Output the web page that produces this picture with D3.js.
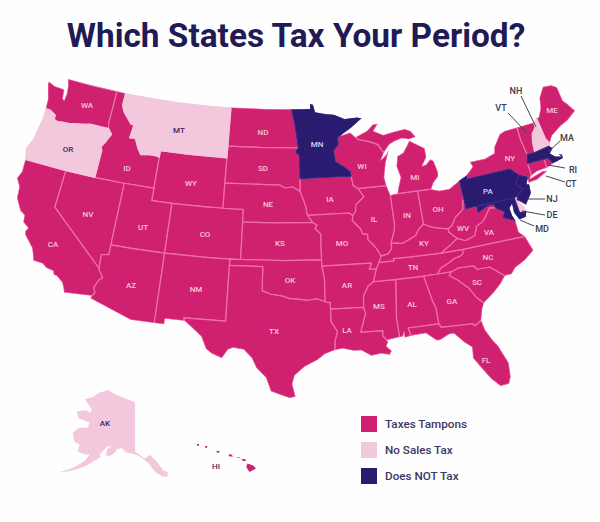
<!DOCTYPE html>
<html lang="en">
<head>
<meta charset="UTF-8">
<title>Which States Tax Your Period?</title>
<script src="https://d3js.org/d3.v7.min.js"></script>
<style>
  body { margin: 0; background: #fefefe; font-family: Roboto, Arial, sans-serif; }
  svg { display: block; }
  .state { stroke-width: 1.2; stroke-linejoin: round; }
  .code { font-size: 8px; font-weight: 500; text-anchor: middle; fill: #f8c4da; }
  .code.dark { fill: #3b2a66; }
  .code.lite { fill: #d9d2f2; }
  .callout { font-size: 9px; font-weight: 500; text-anchor: middle; fill: #3a3a4a; }
  .leader { stroke: #45455a; stroke-width: 1; }
  .legend { font-size: 11.7px; font-weight: 500; fill: #3b3762; }
</style>
</head>
<body>
<script>
// legend groups
const legendLabels = ["Taxes Tampons", "No Sales Tax", "Does NOT Tax"];
const taxesTampons = ["WA","CA","NV","ID","WY","UT","CO","AZ","NM","ND","SD","NE","KS","OK","TX","IA","MO","AR","LA","WI","IL","MS","AL","TN","KY","IN","OH","MI","GA","FL","SC","NC","VA","WV","NY","VT","ME","RI","CT","HI"];
const noSalesTax = ["OR","MT","NH","DE","AK"];
const doesNotTax = ["MN","PA","NJ","MD","MA"];

// state outlines, lon/lat
const WA = [[[-122.76,49],[-120,49],[-117.03,49],[-117.04,46.42],[-116.92,45.99],[-118.98,46],[-119.3,45.93],[-119.9,45.84],[-120.6,45.74],[-121.2,45.65],[-122,45.6],[-122.3,45.55],[-122.76,45.65],[-122.8,46],[-123.2,46.15],[-123.5,46.27],[-124,46.27],[-124.07,46.7],[-124.1,47],[-124.4,47.6],[-124.7,48.2],[-124.7,48.38],[-123.9,48.17],[-123.1,48.15],[-122.75,48.1],[-122.6,47.4],[-122.4,47.3],[-122.35,47.9],[-122.5,48.5]]];
const OR = [[[-124,46.27],[-123.5,46.27],[-123.2,46.15],[-122.8,46],[-122.76,45.65],[-122.3,45.55],[-122,45.6],[-121.2,45.65],[-120.6,45.74],[-119.9,45.84],[-119.3,45.93],[-118.98,46],[-116.92,45.99],[-116.46,45.6],[-116.85,44.95],[-117.2,44.45],[-117.03,44.2],[-117.03,42],[-120,42],[-124.2,42],[-124.4,42.5],[-124.55,42.85],[-124.15,43.7],[-124.05,44.7],[-123.95,45.5]]];
const CA = [[[-124.2,42],[-120,42],[-120,39],[-114.63,35],[-114.6,34.9],[-114.13,34.3],[-114.43,34.05],[-114.72,33.4],[-114.5,33],[-114.72,32.72],[-117.12,32.53],[-117.25,32.85],[-117.5,33.3],[-118.1,33.7],[-118.4,33.75],[-118.5,34.03],[-119.2,34.15],[-119.6,34.4],[-120.47,34.45],[-120.65,34.9],[-120.9,35.4],[-121.9,36.3],[-121.95,36.6],[-121.8,36.85],[-122.4,37.2],[-122.5,37.75],[-123,38],[-123.7,38.9],[-123.85,39.8],[-124.35,40.4],[-124.1,41]]];
const NV = [[[-120,42],[-117.03,42],[-114.04,42],[-114.04,37],[-114.04,36.2],[-114.7,36.1],[-114.63,35],[-120,39]]];
const ID = [[[-117.03,49],[-116.05,49],[-116.05,48],[-115.7,47.5],[-114.7,46.7],[-114.35,46.65],[-114.5,45.6],[-113.9,45.65],[-113.45,44.95],[-113,44.45],[-112.3,44.55],[-111.5,44.55],[-111.05,44.48],[-111.05,42],[-114.04,42],[-117.03,42],[-117.03,44.2],[-117.2,44.45],[-116.85,44.95],[-116.46,45.6],[-116.92,45.99],[-117.04,46.42]]];
const MT = [[[-116.05,49],[-113,49],[-110,49],[-107,49],[-104.05,49],[-104.05,45.94],[-104.05,45],[-108,45],[-111.05,45],[-111.05,44.48],[-111.5,44.55],[-112.3,44.55],[-113,44.45],[-113.45,44.95],[-113.9,45.65],[-114.5,45.6],[-114.35,46.65],[-114.7,46.7],[-115.7,47.5],[-116.05,48]]];
const WY = [[[-111.05,45],[-108,45],[-104.05,45],[-104.05,43],[-104.05,41],[-108,41],[-109.05,41],[-111.05,41],[-111.05,42],[-111.05,44.48]]];
const UT = [[[-114.04,42],[-111.05,42],[-111.05,41],[-109.05,41],[-109.05,37],[-112,37],[-114.04,37]]];
const CO = [[[-109.05,41],[-106,41],[-104.05,41],[-102.05,41],[-102.05,40],[-102.05,37],[-105,37],[-109.05,37]]];
const AZ = [[[-114.04,37],[-112,37],[-109.05,37],[-109.05,31.33],[-111.07,31.33],[-114.8,32.5],[-114.72,32.72],[-114.5,33],[-114.72,33.4],[-114.43,34.05],[-114.13,34.3],[-114.6,34.9],[-114.63,35],[-114.7,36.1],[-114.04,36.2]]];
const NM = [[[-109.05,37],[-105,37],[-103,37],[-103.04,36.5],[-103.04,32],[-106.62,32],[-106.53,31.78],[-108.2,31.78],[-108.2,31.33],[-109.05,31.33]]];
const ND = [[[-104.05,49],[-100,49],[-97.23,49],[-96.85,47.6],[-96.56,45.94],[-100,45.94],[-104.05,45.94]]];
const SD = [[[-104.05,45.94],[-100,45.94],[-96.56,45.94],[-96.85,45.6],[-96.45,45.3],[-96.45,43.5],[-96.45,42.49],[-97.2,42.85],[-98,42.77],[-98.5,43],[-104.05,43],[-104.05,45]]];
const NE = [[[-104.05,43],[-98.5,43],[-98,42.77],[-97.2,42.85],[-96.45,42.49],[-96.1,41.7],[-95.9,41.2],[-95.85,40.7],[-95.77,40.58],[-95.3,40],[-99,40],[-102.05,40],[-102.05,41],[-104.05,41]]];
const KS = [[[-102.05,40],[-99,40],[-95.3,40],[-94.9,39.8],[-95.1,39.5],[-94.6,39.1],[-94.62,37],[-98,37],[-102.05,37]]];
const OK = [[[-103,37],[-98,37],[-94.62,37],[-94.62,36.5],[-94.43,35.4],[-94.48,33.64],[-95.2,33.9],[-96,33.8],[-96.9,33.9],[-97.6,33.95],[-98.1,34.13],[-99.2,34.3],[-100,34.56],[-100,36.5],[-103.04,36.5]]];
const TX = [[[-103.04,36.5],[-100,36.5],[-100,34.56],[-99.2,34.3],[-98.1,34.13],[-97.6,33.95],[-96.9,33.9],[-96,33.8],[-95.2,33.9],[-94.48,33.64],[-94.04,33.55],[-94.04,33.02],[-94.04,32],[-93.55,31.2],[-93.8,30.4],[-93.85,29.7],[-94.7,29.4],[-95.3,28.95],[-96.4,28.4],[-97.2,27.7],[-97.4,27],[-97.15,25.96],[-97.6,25.85],[-98.2,26.05],[-99.1,26.4],[-99.5,27.5],[-100.3,28.3],[-100.7,29.1],[-101.4,29.77],[-102.3,29.88],[-102.7,29.7],[-103.15,28.98],[-104,29.3],[-104.5,29.65],[-105,30.65],[-106.53,31.78],[-106.62,32],[-103.04,32]]];
const MN = [[[-97.23,49],[-95.15,49],[-95.15,49.38],[-94.8,49.33],[-94.6,48.72],[-93.5,48.55],[-92.5,48.45],[-91.4,48.05],[-90,48.1],[-89.5,48],[-90.8,47.3],[-92.05,46.75],[-92.3,46.65],[-92.3,46.1],[-92.85,45.6],[-92.75,45],[-92.75,44.75],[-91.9,44.3],[-91.25,43.85],[-91.22,43.5],[-96.45,43.5],[-96.45,45.3],[-96.85,45.6],[-96.56,45.94],[-96.85,47.6]]];
const IA = [[[-96.45,43.5],[-91.22,43.5],[-91.1,42.75],[-90.65,42.5],[-90.15,41.8],[-91.05,41.2],[-91.1,40.7],[-91.42,40.38],[-91.73,40.61],[-95.77,40.58],[-95.85,40.7],[-95.9,41.2],[-96.1,41.7],[-96.45,42.49]]];
const MO = [[[-95.77,40.58],[-91.73,40.61],[-91.42,40.38],[-91.5,40],[-90.75,39.25],[-90.65,38.9],[-90.15,38.8],[-90.2,38.4],[-89.55,37.7],[-89.15,37],[-89.4,36.5],[-89.7,36],[-90.37,36],[-90.1,36.5],[-94.62,36.5],[-94.62,37],[-94.6,39.1],[-95.1,39.5],[-94.9,39.8],[-95.3,40]]];
const AR = [[[-94.62,36.5],[-90.1,36.5],[-90.37,36],[-89.7,36],[-90.1,35],[-90.6,34.7],[-91.1,33.9],[-91.17,33],[-94.04,33.02],[-94.04,33.55],[-94.48,33.64],[-94.43,35.4]]];
const LA = [[[-94.04,33.02],[-91.17,33],[-91.05,32.5],[-91.6,31.02],[-89.73,31],[-89.8,30.6],[-89.5,30.2],[-89.4,30.05],[-89.6,29.7],[-89.2,29.3],[-89.4,29],[-90.1,29.15],[-90.9,29.05],[-91.7,29.55],[-92.3,29.55],[-93.2,29.78],[-93.85,29.7],[-93.8,30.4],[-93.55,31.2],[-94.04,32]]];
const MS = [[[-90.1,35],[-88.2,35],[-88.1,34.9],[-88.47,31.9],[-88.4,30.35],[-89.5,30.2],[-89.8,30.6],[-89.73,31],[-91.6,31.02],[-91.05,32.5],[-91.17,33],[-91.1,33.9],[-90.6,34.7]]];
const AL = [[[-88.2,35],[-85.6,34.98],[-85.18,32.87],[-85,32.3],[-85,31],[-87.6,31],[-87.45,30.35],[-88,30.25],[-88,30.7],[-88.13,30.35],[-88.4,30.35],[-88.47,31.9],[-88.1,34.9]]];
const TN = [[[-89.4,36.5],[-88.05,36.5],[-88.07,36.68],[-86.5,36.65],[-83.68,36.6],[-81.68,36.59],[-81.7,36.3],[-82,36.1],[-82.6,36],[-83.1,35.75],[-84,35.4],[-84.32,34.99],[-85.6,34.98],[-88.2,35],[-90.1,35],[-89.7,36]]];
const KY = [[[-89.4,36.5],[-89.15,37],[-88.5,37.1],[-88.1,37.5],[-88.1,37.9],[-87.6,37.9],[-87.1,37.8],[-86.5,38],[-85.7,38.3],[-85.4,38.7],[-84.8,39.1],[-84.3,38.85],[-83.7,38.65],[-82.6,38.4],[-82.6,38.15],[-81.97,37.54],[-82.7,37.1],[-83.68,36.6],[-86.5,36.65],[-88.07,36.68],[-88.05,36.5]]];
const IL = [[[-90.65,42.5],[-87.8,42.5],[-87.53,41.7],[-87.53,39.35],[-87.6,39],[-87.95,38.2],[-88.1,37.9],[-88.1,37.5],[-88.5,37.1],[-89.15,37],[-89.55,37.7],[-90.2,38.4],[-90.15,38.8],[-90.65,38.9],[-90.75,39.25],[-91.5,40],[-91.42,40.38],[-91.1,40.7],[-91.05,41.2],[-90.15,41.8]]];
const IN = [[[-87.53,41.7],[-87.2,41.76],[-86.82,41.76],[-84.8,41.76],[-84.8,39.1],[-85.4,38.7],[-85.7,38.3],[-86.5,38],[-87.1,37.8],[-87.6,37.9],[-88.1,37.9],[-87.95,38.2],[-87.6,39],[-87.53,39.35]]];
const OH = [[[-84.8,41.76],[-83.45,41.73],[-82.7,41.5],[-81.7,41.5],[-80.52,42],[-80.52,40.64],[-80.65,40.3],[-80.85,39.7],[-81.7,39.2],[-82.2,38.6],[-82.6,38.4],[-83.7,38.65],[-84.3,38.85],[-84.8,39.1]]];
const MI = [
  [[-86.82,41.76],[-84.8,41.76],[-83.45,41.73],[-83.1,42.2],[-82.5,42.65],[-82.45,43],[-82.65,43.9],[-82.95,44.07],[-83.5,43.7],[-83.9,43.65],[-83.3,44.3],[-83.3,45],[-84.75,45.78],[-85.1,45.4],[-85.6,44.9],[-86.25,44.7],[-86.5,43.9],[-86.25,43],[-86.6,42.3]],
  [[-90.4,46.55],[-89.1,46.95],[-88.4,47.4],[-87.8,47.45],[-88.4,46.9],[-87.4,46.5],[-86.2,46.65],[-85,46.75],[-84.4,46.5],[-84,46],[-84.75,45.9],[-85.5,46.05],[-86.3,45.9],[-86.9,45.7],[-87.6,45.1],[-87.8,45.35],[-88.1,45.8],[-89.1,46.13],[-90.1,46.33]]
];
const WI = [[[-92.05,46.75],[-90.9,46.95],[-90.4,46.55],[-90.1,46.33],[-89.1,46.13],[-88.1,45.8],[-87.8,45.35],[-87.6,45.1],[-88,44.55],[-87.4,44.9],[-87.05,45.25],[-87.55,44.3],[-87.9,43.2],[-87.8,42.5],[-90.65,42.5],[-91.1,42.75],[-91.22,43.5],[-91.25,43.85],[-91.9,44.3],[-92.75,44.75],[-92.75,45],[-92.85,45.6],[-92.3,46.1],[-92.3,46.65]]];
const GA = [[[-85.6,34.98],[-84.32,34.99],[-83.1,35],[-83.35,34.7],[-82.75,34.3],[-81.9,33.5],[-81.4,32.6],[-80.9,32.05],[-81.15,31.6],[-81.45,30.72],[-82.05,30.36],[-82.2,30.57],[-84.86,30.7],[-85,31],[-85,32.3],[-85.18,32.87]]];
const FL = [[[-87.6,31],[-85,31],[-84.86,30.7],[-82.2,30.57],[-82.05,30.36],[-81.45,30.72],[-81.3,29.9],[-80.9,29],[-80.55,28.4],[-80.05,26.9],[-80.15,25.75],[-80.4,25.2],[-81.1,25.15],[-81.7,25.9],[-82.2,26.8],[-82.75,27.8],[-82.65,28.7],[-83.2,29.2],[-83.9,30.05],[-84.3,30.05],[-85.1,29.7],[-85.4,29.7],[-86.2,30.4],[-87.45,30.35]]];
const SC = [[[-83.1,35],[-82.4,35.2],[-81.05,35.15],[-80.8,34.82],[-79.67,34.8],[-78.55,33.86],[-79.1,33.3],[-79.9,32.7],[-80.9,32.05],[-81.4,32.6],[-81.9,33.5],[-82.75,34.3],[-83.35,34.7]]];
const NC = [[[-84.32,34.99],[-84,35.4],[-83.1,35.75],[-82.6,36],[-82,36.1],[-81.7,36.3],[-81.68,36.59],[-75.87,36.55],[-75.5,35.3],[-76.5,34.7],[-77.5,34.3],[-77.95,33.87],[-78.55,33.86],[-79.67,34.8],[-80.8,34.82],[-81.05,35.15],[-82.4,35.2],[-83.1,35]]];
const VA = [[[-83.68,36.6],[-82.7,37.1],[-81.97,37.54],[-81.25,37.25],[-80.3,37.5],[-79.95,38.2],[-79.3,38.45],[-78.9,38.8],[-78.35,39.4],[-77.75,39.3],[-77.5,39.1],[-77.05,38.85],[-77.3,38.4],[-76.3,37.95],[-76.3,37],[-75.87,36.55],[-81.68,36.59]]];
const WV = [[[-82.6,38.15],[-82.6,38.4],[-82.2,38.6],[-81.7,39.2],[-80.85,39.7],[-80.65,40.3],[-80.52,40.64],[-80.52,39.72],[-79.48,39.72],[-79.48,39.2],[-78.9,39.45],[-78.4,39.62],[-77.85,39.6],[-77.75,39.3],[-78.35,39.4],[-78.9,38.8],[-79.3,38.45],[-79.95,38.2],[-80.3,37.5],[-81.25,37.25],[-81.97,37.54]]];
const MD = [[[-79.48,39.72],[-75.79,39.72],[-75.7,38.46],[-75.05,38.45],[-75.25,38.03],[-75.9,37.95],[-76.2,38.6],[-76.15,39.3],[-76.5,39],[-76.45,38.4],[-76.3,37.95],[-77.3,38.4],[-77.05,38.85],[-77.5,39.1],[-77.75,39.3],[-77.85,39.6],[-78.4,39.62],[-78.9,39.45],[-79.48,39.2]]];
const DE = [[[-75.79,39.72],[-75.4,39.8],[-75.55,39.5],[-75.1,38.8],[-75.05,38.45],[-75.7,38.46]]];
const PA = [[[-80.52,42],[-79.76,42.27],[-79.76,42],[-75.35,42],[-74.7,41.36],[-75.1,40.95],[-75.2,40.65],[-74.75,40.2],[-75.4,39.8],[-75.79,39.72],[-80.52,39.72]]];
const NJ = [[[-74.7,41.36],[-73.9,41],[-74.25,40.5],[-74,40.45],[-74.1,39.75],[-74.9,38.95],[-75.55,39.5],[-75.4,39.8],[-74.75,40.2],[-75.2,40.65],[-75.1,40.95]]];
const NY = [[[-79.76,42.27],[-78.9,42.85],[-79.05,43.27],[-77.5,43.25],[-76.4,43.5],[-76.2,44],[-75.3,44.85],[-74.7,45],[-73.35,45],[-73.4,44],[-73.25,42.75],[-73.5,42.05],[-73.49,41.2],[-73.65,41],[-73.75,40.85],[-72.3,41.15],[-71.9,41.05],[-73.1,40.63],[-74,40.58],[-74,40.7],[-73.9,41],[-74.7,41.36],[-75.35,42],[-79.76,42]]];
const VT = [[[-73.35,45],[-71.5,45],[-71.55,44.6],[-72.05,44.2],[-72.3,43.6],[-72.46,42.73],[-73.25,42.75],[-73.4,44]]];
const NH = [[[-71.5,45],[-71.08,45.3],[-70.95,43.5],[-70.7,43.08],[-70.85,42.87],[-72.46,42.73],[-72.3,43.6],[-72.05,44.2],[-71.55,44.6]]];
const ME = [[[-71.08,45.3],[-70.85,45.25],[-70.3,45.9],[-70,46.7],[-69.2,47.45],[-68.3,47.35],[-67.8,47.07],[-67.78,45.9],[-67.45,45.55],[-67,44.85],[-68.1,44.35],[-69,44.1],[-70.2,43.6],[-70.7,43.08],[-70.95,43.5]]];
const MA = [[[-73.5,42.05],[-73.25,42.75],[-72.46,42.73],[-70.85,42.87],[-70.6,42.65],[-71.05,42.3],[-70.65,41.95],[-70.05,41.8],[-70.25,42.05],[-69.95,41.95],[-70,41.65],[-70.65,41.55],[-71.12,41.5],[-71.38,42.02],[-71.8,42.02]]];
const RI = [[[-71.8,42.02],[-71.38,42.02],[-71.12,41.5],[-71.5,41.37],[-71.85,41.32]]];
const CT = [[[-73.5,42.05],[-71.8,42.02],[-71.85,41.32],[-72.9,41.25],[-73.65,41],[-73.49,41.2]]];
const AK = [[[-141,69.65],[-141,60.3],[-139.5,59.9],[-137.5,59],[-135.5,59.7],[-133.5,58.4],[-131.5,56.6],[-130,56],[-130.5,55.2],[-132,55.4],[-134,56.3],[-135.5,57.5],[-136.5,58.3],[-138,59],[-140,59.7],[-142,60],[-144.5,60.2],[-146,60.9],[-148,60.7],[-148.5,60],[-150,59.3],[-151.8,59.2],[-151.5,60.5],[-150,61.2],[-151.5,61],[-153,60],[-154,59.2],[-153.5,58.8],[-156,57.5],[-158,56.5],[-160,55.7],[-163,54.6],[-165.5,53.9],[-163,55],[-161,56],[-158.5,57.5],[-157.5,58.8],[-159,58.6],[-162,58.7],[-162,60],[-164.5,60.3],[-166,61.6],[-165,62.6],[-164,63.1],[-161,63.5],[-161,64.5],[-163,64.5],[-166,64.6],[-168,65.6],[-164,66.5],[-162,66.2],[-161.8,67],[-164,67.6],[-166.5,68.3],[-163,69.3],[-161,70.3],[-156.5,71.3],[-152,70.8],[-148,70.4],[-144,70]]];
const HI = [
  [[-155.9,20.25],[-155.2,19.95],[-154.85,19.5],[-155.65,18.95],[-156.05,19.7]],
  [[-156.65,20.95],[-156.3,20.95],[-156,20.75],[-156.4,20.6]],
  [[-157.3,21.2],[-156.75,21.15],[-157,21.05]],
  [[-158.25,21.55],[-157.95,21.7],[-157.65,21.3],[-158.1,21.3]],
  [[-159.75,22.1],[-159.4,22.2],[-159.3,21.95],[-159.6,21.9]],
  [[-161.1,22.9],[-160.85,22.9],[-160.85,22.65],[-161.1,22.65]],
  [[-162.1,23.2],[-161.85,23.2],[-161.85,22.95],[-162.1,22.95]]
];

const outlines = {WA,OR,CA,NV,ID,MT,WY,UT,CO,AZ,NM,ND,SD,NE,KS,OK,TX,MN,IA,MO,AR,LA,MS,AL,TN,KY,IL,IN,OH,MI,WI,GA,FL,SC,NC,VA,WV,MD,DE,PA,NJ,NY,VT,NH,ME,MA,RI,CT};

const width = 600, height = 522;
const colour = { tax: "#cf2170", none: "#f3c7dc", exempt: "#2a1a70" };
const fillOf = code => noSalesTax.includes(code) ? colour.none : doesNotTax.includes(code) ? colour.exempt : colour.tax;
const strokeOf = code => noSalesTax.includes(code) ? colour.none : doesNotTax.includes(code) ? "#3a2a80" : "#f06fa8";
const layerOf = code => noSalesTax.includes(code) ? 1 : doesNotTax.includes(code) ? 2 : 0;

const svg = d3.select("body").append("svg").attr("width", width).attr("height", height);

svg.append("text").attr("x", 296).attr("y", 47).attr("text-anchor", "middle")
  .attr("fill", "#201a55").style("font-size", "33.4px").style("font-weight", 700)
  .text("Which States Tax Your Period?");

// stretch a projection onto the frame the picture uses (it is wider than true albers)
function framed(proj, points, xRange, yRange) {
  const xy = points.map(p => proj(p));
  const sx = d3.scaleLinear().domain(d3.extent(xy, d => d[0])).range(xRange);
  const sy = d3.scaleLinear().domain(d3.extent(xy, d => d[1])).range(yRange);
  return p => { const [x, y] = proj(p); return [sx(x), sy(y)]; };
}

const lower48 = framed(d3.geoAlbers().parallels([37, 53]).rotate([98, 0]).scale(1000).translate([0, 0]),
  Object.values(outlines).flat(2), [17, 575], [79, 398]);
const alaska = framed(d3.geoConicEqualArea().rotate([141, 0]).center([0, 62]).parallels([55, 65]).scale(300).translate([0, 0]),
  AK[0], [59, 168], [390, 477]);
const hawaii = framed(d3.geoMercator().scale(500).translate([0, 0]), HI.flat(), [197, 256], [444, 472]);

const line = d3.line();
const ringsToPath = (rings, proj) => rings.map(r => line(r.map(p => proj(p))) + "Z").join("");

// keep the borders inside the land so the coast stays clean
svg.append("clipPath").attr("id", "land").append("path")
  .attr("d", Object.values(outlines).map(rings => ringsToPath(rings, lower48)).join(""));

const stateOrder = d3.sort(Object.keys(outlines), layerOf);
svg.append("g").attr("clip-path", "url(#land)").selectAll("path").data(stateOrder).join("path")
  .attr("class", "state")
  .attr("fill", fillOf)
  .attr("stroke", strokeOf)
  .attr("d", code => ringsToPath(outlines[code], lower48));

svg.append("path").attr("d", ringsToPath(AK, alaska)).attr("fill", colour.none);
svg.append("path").attr("d", ringsToPath(HI, hawaii)).attr("fill", colour.tax);

// state codes placed where the picture has them
const codeSpots = {WA:[87,105],OR:[68,149],CA:[53,244],NV:[88,214],ID:[127,168],MT:[179,130],WY:[191,183],UT:[143,227],CO:[205,234],AZ:[131,285],NM:[196,289],ND:[263,132],SD:[263,168],NE:[268,204],KS:[280,243],OK:[290,280],TX:[274,331],MN:[317,144],IA:[330,199],MO:[342,243],AR:[347,285],LA:[347,330],WI:[362,166],IL:[374,219],MS:[379,306],AL:[412,304],TN:[413,267],KY:[424,243],IN:[407,215],OH:[438,209],MI:[415,177],GA:[452,301],FL:[486,360],SC:[477,282],NC:[488,257],VA:[489,232],WV:[463,228],NY:[510,158],PA:[488,191],ME:[552,110],AK:[105,423],HI:[216,466]};

svg.append("g").selectAll("text").data(Object.keys(codeSpots)).join("text")
  .attr("class", d => "code" + (noSalesTax.includes(d) || d === "HI" ? " dark" : doesNotTax.includes(d) ? " lite" : ""))
  .attr("x", d => codeSpots[d][0])
  .attr("y", d => codeSpots[d][1] + 2.8)
  .text(d => d);

// small north-east states get a leader line: code, text x/y, line from, line to
const callouts = [
  ["NH",516,91,[521,96],[536,127]],
  ["VT",501,108,[508,113],[527,133]],
  ["MA",567,138,[560,141],[548,152]],
  ["RI",573,170,[565,168],[548,165]],
  ["CT",571,184,[565,182],[546,176]],
  ["NJ",552,199,[545,199],[527,199]],
  ["DE",552,215,[545,215],[522,211]],
  ["MD",542,229,[534,226],[520,220]]
];
const notes = svg.append("g").selectAll("g").data(callouts).join("g");
notes.append("line").attr("class", "leader")
  .attr("x1", d => d[3][0]).attr("y1", d => d[3][1])
  .attr("x2", d => d[4][0]).attr("y2", d => d[4][1]);
notes.append("text").attr("class", "callout")
  .attr("x", d => d[1]).attr("y", d => d[2] + 3.2)
  .text(d => d[0]);

// legend
const legendY = d3.scalePoint().domain(legendLabels).range([424, 476]);
const legendFill = d3.scaleOrdinal().domain(legendLabels).range([colour.tax, colour.none, colour.exempt]);
const keys = svg.append("g").selectAll("g").data(legendLabels).join("g")
  .attr("transform", d => `translate(0,${legendY(d)})`);
keys.append("rect").attr("x", 361).attr("y", -8).attr("width", 16).attr("height", 16).attr("fill", legendFill);
keys.append("text").attr("class", "legend").attr("x", 385).attr("y", 4).text(d => d);
</script>
</body>
</html>
